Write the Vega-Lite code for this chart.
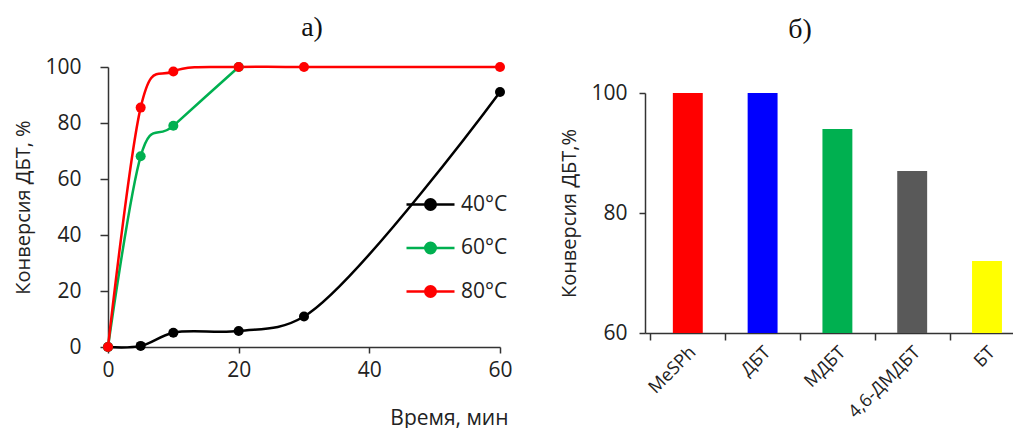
{
  "$schema": "https://vega.github.io/schema/vega-lite/v6.json",
  "background": "white",
  "padding": {"left": 13, "top": 14, "right": 0, "bottom": 0},
  "config": {
    "view": {"stroke": null},
    "font": "Open Sans",
    "axis": {"grid": false, "domainColor": "#333333", "tickColor": "#333333", "labelColor": "#222222", "titleColor": "#222222", "labelFont": "Open Sans", "titleFont": "Open Sans", "titleFontWeight": "normal", "domainWidth": 1.5, "tickWidth": 1.5},
    "title": {"font": "Liberation Serif", "fontSize": 28, "fontWeight": "normal", "color": "#111111", "anchor": "middle", "frame": "group"}
  },
  "resolve": {"scale": {"color": "independent"}, "legend": {"color": "independent"}},
  "spacing": 46,
  "hconcat": [
    {
      "width": 392,
      "height": 280,
      "title": {"text": "а)", "dx": 8, "offset": 14},
      "data": {"values": [
        {"time": 0, "conv": 0, "series": "40°C"},
        {"time": 5, "conv": 0.4, "series": "40°C"},
        {"time": 10, "conv": 5.1, "series": "40°C"},
        {"time": 20, "conv": 5.7, "series": "40°C"},
        {"time": 30, "conv": 10.9, "series": "40°C"},
        {"time": 60, "conv": 91.1, "series": "40°C"},
        {"time": 0, "conv": 0, "series": "60°C"},
        {"time": 5, "conv": 68.1, "series": "60°C"},
        {"time": 10, "conv": 79, "series": "60°C"},
        {"time": 20, "conv": 100, "series": "60°C"},
        {"time": 0, "conv": 0, "series": "80°C"},
        {"time": 5, "conv": 85.5, "series": "80°C"},
        {"time": 10, "conv": 98.4, "series": "80°C"},
        {"time": 20, "conv": 100, "series": "80°C"},
        {"time": 30, "conv": 100, "series": "80°C"},
        {"time": 60, "conv": 100, "series": "80°C"}
      ]},
      "encoding": {
        "x": {"field": "time", "type": "quantitative", "scale": {"domain": [0, 60], "nice": false},
          "axis": {"values": [0, 20, 40, 60], "title": "Время, мин", "labelFontSize": 21, "titleFontSize": 21, "tickSize": 6, "labelPadding": 6, "labelFlush": false, "titleAlign": "right", "titleX": 400, "titleY": 71, "titleBaseline": "middle"}},
        "y": {"field": "conv", "type": "quantitative", "scale": {"domain": [0, 100], "nice": false},
          "axis": {"values": [0, 20, 40, 60, 80, 100], "title": "Конверсия ДБТ, %", "labelFontSize": 21, "titleFontSize": 20, "tickSize": 8, "labelPadding": 19, "titlePadding": 11}},
        "color": {"field": "series", "type": "nominal",
          "scale": {"domain": ["40°C", "60°C", "80°C"], "range": ["#000000", "#00B050", "#FF0000"]},
          "legend": {"orient": "none", "legendX": 306, "legendY": 121, "title": null, "padding": 0,
            "symbolType": "M-1.6,0H1.6M-0.35,0A0.35,0.35 0 1,0 0.35,0A0.35,0.35 0 1,0 -0.35,0Z",
            "symbolSize": 900, "symbolStrokeWidth": 2.5, "labelFontSize": 21, "labelFont": "Open Sans", "labelColor": "#222222", "labelOffset": 14, "rowPadding": 16.5,
            "encode": {"symbols": {"update": {
              "fill": {"signal": "datum.value === '40°C' ? '#000000' : datum.value === '60°C' ? '#00B050' : '#FF0000'"},
              "stroke": {"signal": "datum.value === '40°C' ? '#000000' : datum.value === '60°C' ? '#00B050' : '#FF0000'"},
              "strokeWidth": {"value": 2.5},
              "opacity": {"value": 1}
            }}}}
        }
      },
      "layer": [
        {"transform": [{"filter": "datum.series === '40°C'"}],
         "mark": {"type": "line", "interpolate": "catmull-rom", "strokeWidth": 2.5}},
        {"transform": [{"filter": "datum.series !== '40°C'"}],
         "mark": {"type": "line", "interpolate": "cardinal", "strokeWidth": 2.5}},
        {"mark": {"type": "point", "filled": true, "size": 100, "opacity": 1}}
      ]
    },
    {
      "spacing": 0,
      "vconcat": [
        {
          "width": 368,
          "height": 15,
          "title": {"text": "б)", "dx": -29, "offset": 23},
          "data": {"values": []},
          "mark": "point"
        },
        {
          "width": 368,
          "height": 240,
          "data": {"values": [
            {"compound": "MeSPh", "conv": 100},
            {"compound": "ДБТ", "conv": 100},
            {"compound": "МДБТ", "conv": 94},
            {"compound": "4,6-ДМДБТ", "conv": 87},
            {"compound": "БТ", "conv": 72}
          ]},
          "mark": {"type": "bar"},
          "encoding": {
            "x": {"field": "compound", "type": "nominal", "sort": null,
              "scale": {"paddingInner": 0.6, "paddingOuter": 0.26, "align": 0.716},
              "axis": {"title": null, "labelAngle": -45, "labelFontSize": 18, "tickSize": 7, "tickOffset": -37.4, "labelOffset": 36, "labelPadding": 3}},
            "y": {"field": "conv", "type": "quantitative", "scale": {"domain": [60, 100], "nice": false, "zero": false},
              "axis": {"values": [60, 80, 100], "title": "Конверсия ДБТ,%", "labelFontSize": 21, "titleFontSize": 20, "tickSize": 6, "labelPadding": 12, "titlePadding": 11}},
            "y2": {"datum": 60},
            "color": {"field": "compound", "type": "nominal", "sort": null,
              "scale": {"domain": ["MeSPh", "ДБТ", "МДБТ", "4,6-ДМДБТ", "БТ"], "range": ["#FF0000", "#0000FF", "#00B050", "#595959", "#FFFF00"]},
              "legend": null}
          }
        }
      ]
    }
  ]
}
